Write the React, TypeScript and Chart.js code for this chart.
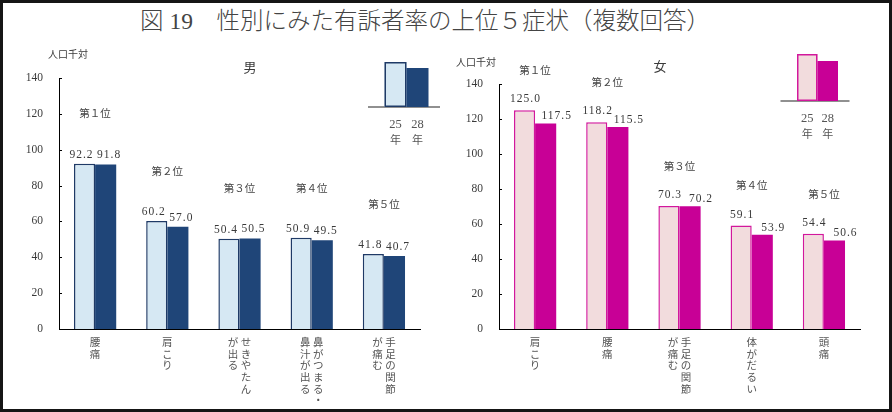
import React, { useEffect, useRef } from "react";
import { Chart, registerables } from "chart.js";

Chart.register(...registerables);

// ---------- data ----------
const titleText = "図 19　性別にみた有訴者率の上位５症状（複数回答）";
const unitLabel = "人口千対";
const seriesLabels = ["25年", "28年"];
const rankLabels = ["第１位", "第２位", "第３位", "第４位", "第５位"];
const yTicks = [0, 20, 40, 60, 80, 100, 120, 140];

const maleTitle = "男";
const maleCategories = [["腰痛"], ["肩こり"], ["せきやたん", "が出る"], ["鼻がつまる・", "鼻汁が出る"], ["手足の関節", "が痛む"]];
const male25 = [92.2, 60.2, 50.4, 50.9, 41.8];
const male28 = [91.8, 57.0, 50.5, 49.5, 40.7];

const femaleTitle = "女";
const femaleCategories = [["肩こり"], ["腰痛"], ["手足の関節", "が痛む"], ["体がだるい"], ["頭痛"]];
const female25 = [125.0, 118.2, 70.3, 59.1, 54.4];
const female28 = [117.5, 115.5, 70.2, 53.9, 50.6];

// ---------- styling ----------
const SERIF = "'Liberation Serif', 'Noto Sans CJK JP', serif";
const CJK = "'Noto Sans CJK JP', sans-serif";
const TEXT = "#3a3a3a";

const decorPlugin = {
  id: "decor",
  afterDraw(chart: any, _args: any, opts: any) {
    const ctx = chart.ctx as CanvasRenderingContext2D;
    const area = chart.chartArea;
    const yScale = chart.scales.y;
    const xScale = chart.scales.x;
    ctx.save();

    // inward tick marks
    ctx.strokeStyle = "#000";
    ctx.lineWidth = 1;
    yScale.ticks.forEach((_t: any, i: number) => {
      const py = Math.round(yScale.getPixelForTick(i)) + 0.5;
      ctx.beginPath();
      ctx.moveTo(area.left, py);
      ctx.lineTo(area.left + 3, py);
      ctx.stroke();
    });

    // value labels
    ctx.fillStyle = TEXT;
    ctx.textAlign = "center";
    ctx.textBaseline = "middle";
    ctx.font = `11.5px ${SERIF}`;
    (ctx as any).letterSpacing = "1px";
    chart.data.datasets.forEach((ds: any, di: number) => {
      const meta = chart.getDatasetMeta(di);
      meta.data.forEach((el: any, i: number) => {
        const v = ds.data[i] as number;
        ctx.fillText(v.toFixed(1), el.x + opts.valueDx[di], el.y - opts.valueDy[di]);
      });
    });
    (ctx as any).letterSpacing = "0px";

    // rank labels
    ctx.font = `10.5px ${CJK}`;
    ctx.fillStyle = "#444";
    const cats = chart.data.labels as string[][];
    cats.forEach((_c, i) => {
      const maxV = Math.max(...chart.data.datasets.map((d: any) => d.data[i]));
      const cx = xScale.getPixelForTick(i);
      const cy = yScale.getPixelForValue(maxV + opts.rankOffset);
      ctx.fillText(rankLabels[i], cx, cy);
    });

    // vertical category labels
    ctx.font = `10.5px ${CJK}`;
    ctx.fillStyle = "#555";
    cats.forEach((lines, i) => {
      const cx = xScale.getPixelForTick(i);
      const n = lines.length;
      lines.forEach((line, j) => {
        const x = cx + ((n - 1) / 2 - j) * 13;
        Array.from(line).forEach((ch, k) => {
          ctx.fillText(ch, x, area.bottom + 13 + k * 11.7);
        });
      });
    });

    // mini legend
    const lg = opts.legend;
    const ds = chart.data.datasets;
    ctx.strokeStyle = "#222";
    ctx.lineWidth = 1.2;
    ctx.beginPath();
    ctx.moveTo(lg.left - 16.5, lg.base);
    ctx.lineTo(lg.left + 2 * lg.bw + 11.5, lg.base);
    ctx.stroke();
    const hs = [lg.h1, lg.h2];
    ds.forEach((d: any, di: number) => {
      const x = lg.left + di * lg.bw;
      ctx.fillStyle = d.backgroundColor;
      ctx.fillRect(x, lg.base - hs[di], lg.bw, hs[di]);
      if (di === 0) {
        ctx.strokeStyle = d.borderColor;
        ctx.lineWidth = 1.5;
        ctx.strokeRect(x + 0.75, lg.base - hs[di] + 0.75, lg.bw - 1.5, hs[di] - 1.5);
      }
      const label = d.label as string;
      const num = label.slice(0, label.length - 1);
      const unit = label.slice(label.length - 1);
      ctx.fillStyle = "#555";
      ctx.font = `12.5px ${SERIF}`;
      ctx.fillText(num, x + lg.bw / 2, lg.base + lg.numDy);
      ctx.font = `11px ${CJK}`;
      ctx.fillText(unit, x + lg.bw / 2, lg.base + lg.numDy + 15);
    });

    // unit label and panel title
    ctx.fillStyle = TEXT;
    ctx.font = `10px ${CJK}`;
    ctx.fillText(unitLabel, opts.unitPos[0], opts.unitPos[1]);
    ctx.font = `13px ${CJK}`;
    ctx.fillText(opts.panelTitle, opts.titlePos[0], opts.titlePos[1]);

    ctx.restore();
  },
};

function makeConfig(p: any) {
  return {
    type: "bar",
    data: {
      labels: p.categories,
      datasets: [
        {
          label: seriesLabels[0],
          data: p.a,
          backgroundColor: p.lightFill,
          borderColor: p.lightBorder,
          borderWidth: 1.5,
          categoryPercentage: 0.585,
          barPercentage: 1,
        },
        {
          label: seriesLabels[1],
          data: p.b,
          backgroundColor: p.darkFill,
          borderColor: p.darkFill,
          borderWidth: 0,
          categoryPercentage: 0.585,
          barPercentage: 1,
        },
      ],
    },
    options: {
      responsive: false,
      animation: false,
      events: [],
      layout: { padding: p.padding },
      plugins: {
        legend: { display: false },
        tooltip: { enabled: false },
        title: { display: false },
        decor: p.decor,
      },
      scales: {
        x: {
          grid: { display: false },
          ticks: { display: false },
          border: { display: true, color: "#000", width: 1 },
          afterFit: (s: any) => {
            s.height = 83;
          },
        },
        y: {
          min: yTicks[0],
          max: yTicks[yTicks.length - 1],
          grid: { display: false, drawTicks: false },
          border: { display: true, color: "#000", width: 1 },
          ticks: {
            stepSize: yTicks[1] - yTicks[0],
            padding: 16,
            color: TEXT,
            font: { family: SERIF, size: 11.5 },
          },
          afterFit: (s: any) => {
            s.width = p.yWidth;
          },
        },
      },
    },
    plugins: [decorPlugin],
  };
}

const maleConfig = () =>
  makeConfig({
    categories: maleCategories,
    a: male25,
    b: male28,
    lightFill: "#d6e8f3",
    lightBorder: "#1f3a66",
    darkFill: "#1f4578",
    padding: { left: 0, top: 78, right: 26, bottom: 0 },
    yWidth: 59,
    decor: {
      valueDx: [-3, 3.5],
      valueDy: [9, 9],
      rankOffset: 28,
      legend: { left: 384.5, base: 107, bw: 22, h1: 45, h2: 39, numDy: 18 },
      unitPos: [68, 54],
      titlePos: [250, 67],
      panelTitle: maleTitle,
    },
  });

const femaleConfig = () =>
  makeConfig({
    categories: femaleCategories,
    a: female25,
    b: female28,
    lightFill: "#f2dcdd",
    lightBorder: "#d2189c",
    darkFill: "#c80096",
    padding: { left: 0, top: 84, right: 32, bottom: 0 },
    yWidth: 53,
    decor: {
      valueDx: [1, 11],
      valueDy: [11, 7],
      rankOffset: 23,
      legend: { left: 351, base: 101, bw: 20.5, h1: 47, h2: 40, numDy: 18 },
      unitPos: [30, 62],
      titlePos: [214, 66],
      panelTitle: femaleTitle,
    },
  });

function Panel({ make, left }: { make: () => any; left: number }) {
  const ref = useRef<HTMLCanvasElement | null>(null);
  useEffect(() => {
    const chart = new Chart(ref.current as HTMLCanvasElement, make());
    return () => chart.destroy();
  }, []);
  return (
    <canvas
      ref={ref}
      width={446}
      height={412}
      style={{ position: "absolute", left, top: 0, width: 446, height: 412 }}
    />
  );
}

export default function App() {
  return (
    <div
      style={{
        position: "absolute",
        left: 0,
        top: 0,
        width: 892,
        height: 412,
        background: "#fff",
        overflow: "hidden",
      }}
    >
      <div
        style={{
          position: "absolute",
          left: 0,
          top: 6,
          width: 850,
          textAlign: "center",
          fontFamily: SERIF,
          fontSize: 23.5,
          fontWeight: 300,
          lineHeight: "30px",
          color: "#444",
          whiteSpace: "pre",
        }}
      >
        {titleText}
      </div>
      <Panel make={maleConfig} left={0} />
      <Panel make={femaleConfig} left={446} />
      <div
        style={{
          position: "absolute",
          left: 0,
          top: 0,
          width: 892,
          height: 412,
          boxSizing: "border-box",
          border: "3px solid #151515",
          pointerEvents: "none",
        }}
      />
    </div>
  );
}
